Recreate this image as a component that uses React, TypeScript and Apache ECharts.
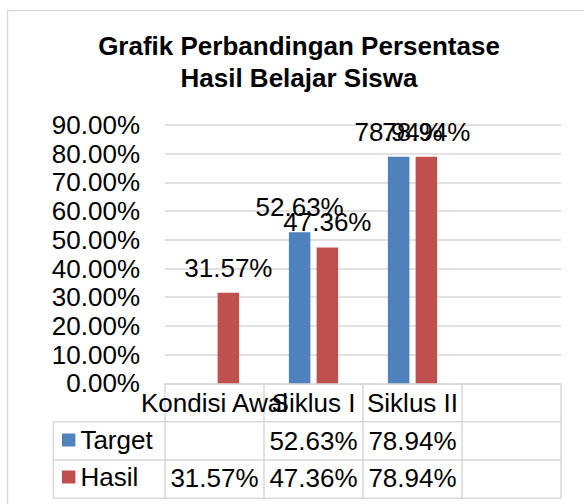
import React, { useEffect, useRef } from "react";
import * as echarts from "echarts";

const categories = ["Kondisi Awal", "Siklus I", "Siklus II", ""];
const seriesNames = ["Target", "Hasil"];
const targetValues: (number | null)[] = [null, 52.63, 78.94, null];
const hasilValues: (number | null)[] = [31.57, 47.36, 78.94, null];
const yMin = 0;
const yMax = 90;
const yInterval = 10;

const fmt = (v: number | null) => (v == null ? "" : `${v.toFixed(2)}%`);

const W = 584;
const H = 504;
const GRID_LEFT = 165;
const GRID_RIGHT_X = 561;
const GRID_TOP = 125;
const AXIS_Y = 383.3;
const ROW1_Y = 421.7;
const ROW2_Y = 460;
const ROW3_Y = 498.3;
const TABLE_LEFT = 53.3;
const FONT = "'Liberation Sans', Arial, sans-serif";
const GRID_COLOR = "#d9d9d9";

export default function App() {
  const ref = useRef<HTMLDivElement>(null);
  useEffect(() => {
    if (!ref.current) return;
    const chart = echarts.init(ref.current, null, { renderer: "svg" });
    const colW = (GRID_RIGHT_X - GRID_LEFT) / categories.length;
    const lines: any[] = [];
    const ln = (x1: number, y1: number, x2: number, y2: number) =>
      lines.push({
        type: "line",
        silent: true,
        shape: { x1, y1, x2, y2 },
        style: { stroke: GRID_COLOR, lineWidth: 1.5 },
      });
    ln(TABLE_LEFT, ROW1_Y, GRID_RIGHT_X, ROW1_Y);
    ln(TABLE_LEFT, ROW2_Y, GRID_RIGHT_X, ROW2_Y);
    ln(TABLE_LEFT, ROW3_Y, GRID_RIGHT_X, ROW3_Y);
    ln(TABLE_LEFT, ROW1_Y, TABLE_LEFT, ROW3_Y);
    for (let i = 0; i <= categories.length; i++) {
      const x = GRID_LEFT + i * colW;
      ln(x, AXIS_Y, x, ROW3_Y);
    }
    const labelStyle = {
      fontSize: 26,
      color: "#000",
      fontFamily: FONT,
    };
    const rowAxis = (data: string[], offset: number) => ({
      type: "category",
      gridIndex: 0,
      position: "bottom",
      offset,
      data,
      axisLine: { show: false },
      axisTick: { show: false },
      splitLine: { show: false },
      axisLabel: { ...labelStyle, interval: 0, margin: 7 },
    });
    chart.setOption({
      animation: false,
      backgroundColor: "#fff",
      textStyle: { fontFamily: FONT },
      title: {
        text: "Grafik Perbandingan Persentase\nHasil Belajar Siswa",
        left: 299,
        textAlign: "center",
        top: 30,
        padding: 0,
        textStyle: {
          fontSize: 26,
          fontWeight: "bold",
          color: "#000",
          lineHeight: 32,
          fontFamily: FONT,
        },
      },
      legend: {
        orient: "vertical",
        left: 62,
        top: 427,
        padding: 0,
        itemWidth: 13.4,
        itemHeight: 13,
        itemGap: 11,
        icon: "rect",
        data: seriesNames,
        textStyle: { ...labelStyle, padding: [0, 0, 0, 0] },
      },
      grid: {
        left: GRID_LEFT,
        right: W - GRID_RIGHT_X,
        top: GRID_TOP,
        bottom: H - AXIS_Y,
        containLabel: false,
        outerBoundsMode: "none",
      },
      xAxis: [
        {
          type: "category",
          data: categories,
          axisLine: { lineStyle: { color: GRID_COLOR, width: 1.5 } },
          axisTick: { show: false },
          axisLabel: { ...labelStyle, interval: 0, margin: 7 },
        },
        rowAxis(targetValues.concat([]).map(fmt), 37.5),
        rowAxis(hasilValues.map(fmt), 74.5),
      ],
      yAxis: {
        type: "value",
        min: yMin,
        max: yMax,
        interval: yInterval,
        axisLine: { show: false },
        axisTick: { show: false },
        splitLine: { lineStyle: { color: GRID_COLOR, width: 1.5 } },
        axisLabel: {
          ...labelStyle,
          margin: 25,
          formatter: (v: number) => `${v.toFixed(2)}%`,
        },
      },
      series: [
        {
          name: seriesNames[0],
          type: "bar",
          data: targetValues,
          barWidth: 21.5,
          barGap: "29%",
          itemStyle: { color: "#4f81bd" },
          label: {
            show: true,
            position: "top",
            distance: 12,
            ...labelStyle,
            formatter: (p: any) => fmt(p.value),
          },
        },
        {
          name: seriesNames[1],
          type: "bar",
          data: hasilValues,
          barWidth: 21.5,
          barGap: "29%",
          itemStyle: { color: "#c0504d" },
          label: {
            show: true,
            position: "top",
            distance: 12,
            ...labelStyle,
            formatter: (p: any) => fmt(p.value),
          },
        },
      ],
      graphic: [
        {
          type: "rect",
          silent: true,
          z: -10,
          shape: { x: 7.5, y: 10.5, width: 600, height: 520 },
          style: { fill: "none", stroke: GRID_COLOR, lineWidth: 1.5 },
        },
        ...lines,
      ],
    });
    return () => chart.dispose();
  }, []);
  return (
    <div
      ref={ref}
      style={{ position: "fixed", left: 0, top: 0, width: W, height: H }}
    />
  );
}
